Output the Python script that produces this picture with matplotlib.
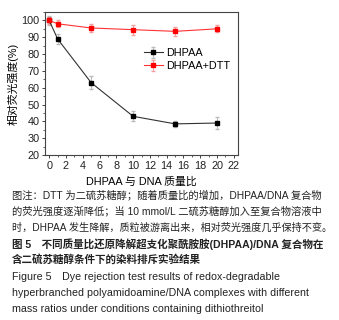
import matplotlib
matplotlib.use("Agg")
from matplotlib import pyplot as plt
from matplotlib.ticker import MultipleLocator

plt.rcParams['font.family'] = ['Liberation Sans', 'Noto Sans CJK SC']

# 数据
mass_ratio = [0, 1, 5, 10, 15, 20]
dhpaa = [100, 89, 63, 43, 38.5, 39]
dhpaa_err = [2.5, 3, 4, 3, 2, 3.5]
dhpaa_dtt = [100, 98, 95.5, 94.5, 93.5, 95]
dhpaa_dtt_err = [2, 2, 2.5, 3, 2.5, 2]

# (文本, 字重, 字号)
caption_lines = [
    ("图注：DTT 为二硫苏糖醇；随着质量比的增加，DHPAA/DNA 复合物", 'normal', 7.4),
    ("的荧光强度逐渐降低；当 10 mmol/L 二硫苏糖醇加入至复合物溶液中", 'normal', 7.4),
    ("时，DHPAA 发生降解，质粒被游离出来，相对荧光强度几乎保持不变。", 'normal', 7.3),
    ("图 5　不同质量比还原降解超支化聚酰胺胺(DHPAA)/DNA 复合物在", 'bold', 7.6),
    ("含二硫苏糖醇条件下的染料排斥实验结果", 'bold', 7.6),
    ("Figure 5　Dye rejection test results of redox-degradable", 'normal', 7.7),
    ("hyperbranched polyamidoamine/DNA complexes with different", 'normal', 7.7),
    ("mass ratios under conditions containing dithiothreitol", 'normal', 7.7),
]

W, H = 339, 320
fig = plt.figure(figsize=(W / 100, H / 100), dpi=100)
ax = fig.add_axes([45 / W, 1 - 155 / H, (238 - 45) / W, (155 - 12) / H])

ax.errorbar(mass_ratio, dhpaa, yerr=dhpaa_err, color='#333333', lw=0.8,
            marker='s', ms=3, mfc='black', mec='black', ecolor='#bbbbbb',
            elinewidth=0.7, capsize=1.5, label='DHPAA')
ax.errorbar(mass_ratio, dhpaa_dtt, yerr=dhpaa_dtt_err, color='#ff3333', lw=0.8,
            marker='s', ms=3, mfc='red', mec='red', ecolor='#f0a0a0',
            elinewidth=0.7, capsize=1.5, label='DHPAA+DTT')

ax.set_xlim(-0.5, 22.5)
ax.set_ylim(20, 105)
ax.xaxis.set_major_locator(MultipleLocator(2))
ax.xaxis.set_minor_locator(MultipleLocator(1))
ax.yaxis.set_major_locator(MultipleLocator(10))
ax.yaxis.set_minor_locator(MultipleLocator(5))
ax.tick_params(which='both', direction='out', labelsize=7.8, colors='#222222')
ax.tick_params(which='major', length=2.5, width=0.6, pad=1.5)
ax.tick_params(which='minor', length=1.5, width=0.5)
for s in ax.spines.values():
    s.set_color('#444444')
    s.set_linewidth(0.8)

ax.set_ylabel("相对荧光强度(%)", fontsize=7.8, labelpad=2)
ax.set_xlabel("DHPAA 与 DNA 质量比", fontsize=7.8, labelpad=4)

ax.legend(loc='upper right', bbox_to_anchor=(1.0, 0.8), frameon=False,
          fontsize=7.8, handlelength=1.8, handletextpad=0.3, labelspacing=0.25,
          borderpad=0.2)

ys = [195, 211, 227.7, 244, 259.5, 276.7, 293, 309.5]
for (txt, w, fs), y in zip(caption_lines, ys):
    fig.text(12 / W, 1 - y / H, txt, fontsize=fs, fontweight=w,
             va='center', ha='left', color='#222222')

plt.savefig("out.png", dpi=100)
plt.close()
